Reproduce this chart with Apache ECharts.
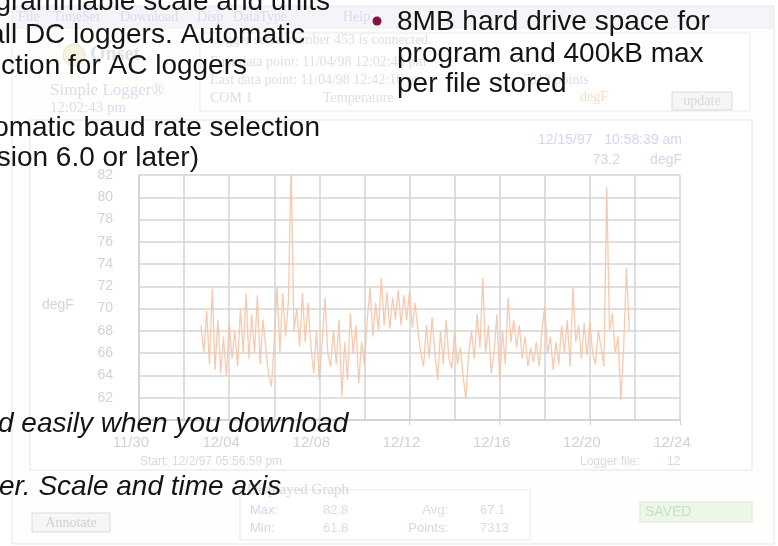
<!DOCTYPE html>
<html>
<head>
<meta charset="utf-8">
<script src="https://cdn.jsdelivr.net/npm/echarts@6/dist/echarts.min.js"></script>
<style>
  html, body { margin: 0; padding: 0; background: #ffffff; }
  #chart { width: 778px; height: 546px; }
</style>
</head>
<body>
<div id="chart"></div>
<script>
// logger samples: first reading 12/2 ~6pm, one value every 3 hours (days from 11/30)
const START_DAY = 2.75;
const STEP_DAY = 0.125;
const tempF = [
  68.5, 66, 69.8, 65, 71.8, 64.5, 69, 64.2,
  67.5, 63.9, 68.7, 65.5, 68, 64.8, 70, 66,
  71.4, 65.5, 69.5, 66, 71.2, 65, 69, 66.5,
  64, 63.0, 67, 71.9, 66, 71.4, 67.5, 70.5,
  82.8, 68, 70, 66.6, 71.4, 67, 70.5, 66.6,
  64.2, 68, 63.6, 67, 71.0, 66, 64.8, 68,
  65, 69, 62.1, 67, 63.6, 69.6, 66, 68.5,
  63.3, 67, 65, 69, 71.9, 67.5, 70.5, 68,
  72.8, 68.5, 71.5, 68.2, 71, 69, 71.7, 68.5,
  71.2, 69, 71.5, 68.3, 70.5, 68, 66, 64.8,
  68.5, 65.5, 69.2, 66, 63.6, 68, 65, 69,
  65.5, 64.6, 68, 65, 66.5, 64, 61.9, 66,
  68, 65.5, 69.5, 66.5, 72.8, 66, 68.5, 64.2,
  66, 69.5, 63.6, 68, 65, 71.0, 67, 69,
  66.5, 68.5, 65.5, 67.5, 64.8, 66.5, 65.2, 67,
  64.8, 68, 70.2, 66, 67.5, 64.5, 67, 65,
  68.5, 66, 69, 64.8, 71.9, 67, 68.5, 65.5,
  68.7, 65.8, 68.8, 66, 65, 68, 66.5, 64.8,
  80.9, 68, 69.6, 66, 67.5, 61.8, 66.5, 73.7,
  68
];
const xTickLabels = ['11/30', '12/04', '12/08', '12/12', '12/16', '12/20', '12/24'];

const menuItems = [['File', 18], ['TimeSet', 53], ['Download', 120], ['Disp', 197], ['DataType', 233], ['Help', 343]];

const faint = '#dcdfe6';
const faintBlue = '#d3d6ec';
const black = '#141414';
const sans = 'Liberation Sans, Arial, sans-serif';
const serif = 'Liberation Serif, Times New Roman, serif';

function txt(text, x, y, opts) {
  opts = opts || {};
  return {
    type: 'text',
    z: opts.z != null ? opts.z : 1,
    style: {
      text: text,
      x: x,
      y: y,
      font: opts.font || ('14px ' + serif),
      fill: opts.fill || faint,
      textAlign: opts.align || 'left',
      textVerticalAlign: 'middle'
    }
  };
}
function box(x, y, w, h, fill, stroke) {
  return {
    type: 'rect',
    z: -5,
    shape: { x: x, y: y, width: w, height: h },
    style: { fill: fill || 'none', stroke: stroke || '#e3e3e6', lineWidth: 1 }
  };
}

const chart = echarts.init(document.getElementById('chart'), null, { renderer: 'canvas' });

const graphic = [
  // window frame and panels (faded screenshot)
  box(12, 6, 762, 538, '#fefefd', '#e6e6e8'),
  box(13, 7, 760, 21, '#f3f5f9', '#eceef3'),
  box(200, 33, 550, 78, '#ffffff', '#e8e9ec'),
  box(30, 120, 722, 350, '#ffffff', '#e4e4e6'),
  box(240, 490, 290, 50, '#ffffff', '#e8e8ea'),
  box(32, 513, 78, 19, '#f6f6f6', '#dcdcde'),
  box(640, 502, 112, 20, '#ecf6e9', '#d8e8d5'),
  box(672, 92, 60, 18, '#f6f6f6', '#dadadc'),
  { type: 'circle', z: -4, shape: { cx: 74, cy: 55, r: 11 }, style: { fill: '#f7f2de', stroke: '#ebe5cf' } },
  txt('Onset', 90, 55, { font: 'bold 20px ' + serif, fill: '#e0e2e8' }),
  txt('Simple Logger\u00ae', 50, 91, { font: '17px ' + serif, fill: '#dadded' }),
  txt('12:02:43 pm', 50, 108, { font: '15px ' + serif, fill: '#dadded' }),
  txt('Logger serial number 453 is connected.', 210, 40),
  txt('First data point: 11/04/98 12:02:43 pm', 210, 62),
  txt('Last data point: 11/04/98 12:42:16 pm', 210, 80),
  txt('7313 points', 523, 80),
  txt('COM 1', 210, 98),
  txt('Temperature', 323, 98),
  txt('degF', 580, 97, { fill: '#f8dcc8' }),
  txt('update', 702, 101, { fill: '#d6d7dc', align: 'center', font: '14px ' + serif }),
  txt('12/15/97   10:58:39 am', 682, 140, { fill: faintBlue, align: 'right', font: '14px ' + sans }),
  txt('73.2', 620, 160, { fill: faintBlue, align: 'right', font: '14px ' + sans }),
  txt('degF', 682, 160, { fill: faintBlue, align: 'right', font: '14px ' + sans }),
  txt('degF', 42, 305, { fill: '#d3d5db', font: '14px ' + sans }),
  txt('Start: 12/2/97 05:56:59 pm', 140, 462, { fill: '#d8dae1', font: '12px ' + sans }),
  txt('Logger file:', 580, 462, { fill: '#d8dae1', font: '12px ' + sans }),
  txt('12', 667, 462, { fill: '#d8dae1', font: '12px ' + sans }),
  txt('Displayed Graph', 247, 490, { fill: '#d6d8df', font: '15px ' + serif }),
  txt('Max:', 250, 510, { fill: faintBlue, font: '13px ' + sans }),
  txt('82.8', 323, 510, { fill: '#dadce2', font: '13px ' + sans }),
  txt('Avg:', 448, 510, { fill: '#dadce2', font: '13px ' + sans, align: 'right' }),
  txt('67.1', 480, 510, { fill: '#dadce2', font: '13px ' + sans }),
  txt('Min:', 250, 528, { fill: faintBlue, font: '13px ' + sans }),
  txt('61.8', 323, 528, { fill: '#dadce2', font: '13px ' + sans }),
  txt('Points:', 448, 528, { fill: faintBlue, font: '13px ' + sans, align: 'right' }),
  txt('7313', 480, 528, { fill: '#dadce2', font: '13px ' + sans }),
  txt('Annotate', 71, 523, { fill: '#cfd0d4', font: '14px ' + serif, align: 'center' }),
  txt('SAVED', 645, 512, { fill: '#cbe0c9', font: '14px ' + sans }),

  // brochure text laid over the screenshot
  txt('Programmable scale and units', 330, 2, { z: 20, font: '28px ' + sans, fill: black, align: 'right' }),
  txt('for all DC loggers. Automatic', 305, 35, { z: 20, font: '28px ' + sans, fill: black, align: 'right' }),
  txt('selection for AC loggers', 247, 66, { z: 20, font: '28px ' + sans, fill: black, align: 'right' }),
  txt('Automatic baud rate selection', 320, 128, { z: 20, font: '28px ' + sans, fill: black, align: 'right' }),
  txt('(version 6.0 or later)', 199, 158, { z: 20, font: '28px ' + sans, fill: black, align: 'right' }),
  { type: 'circle', z: 20, shape: { cx: 377, cy: 21, r: 4.5 }, style: { fill: '#8c0f42' } },
  txt('8MB hard drive space for', 397, 22, { z: 20, font: '28px ' + sans, fill: black }),
  txt('program and 400kB max', 397, 54, { z: 20, font: '28px ' + sans, fill: black }),
  txt('per file stored', 397, 84, { z: 20, font: '28px ' + sans, fill: black }),
  txt('d easily when you download', -2, 424, { z: 20, font: 'italic 28px ' + sans, fill: black }),
  txt('er. Scale and time axis', -1, 487, { z: 20, font: 'italic 28px ' + sans, fill: black })
];
menuItems.forEach(function (m) {
  graphic.push(txt(m[0], m[1], 17, { fill: '#dadde5', font: '14px ' + serif }));
});

chart.setOption({
  backgroundColor: '#ffffff',
  animation: false,
  grid: { left: 139, right: 98, top: 175, bottom: 126, containLabel: false },
  xAxis: {
    type: 'value',
    min: 0,
    max: 24,
    interval: 4,
    axisLine: { show: true, lineStyle: { color: '#d2d2d4', width: 1.5 } },
    axisTick: { show: true, length: 5, lineStyle: { color: '#d2d2d4' } },
    axisLabel: {
      color: '#d0d2d8',
      fontFamily: sans,
      fontSize: 15,
      margin: 15,
      padding: [0, 16, 0, 0],
      formatter: function (v) { return xTickLabels[Math.round(v / 4)] || ''; }
    },
    splitLine: { show: true, lineStyle: { color: '#d4d4d6', width: 1.5 } },
    minorTick: { show: false, splitNumber: 2 },
    minorSplitLine: { show: true, lineStyle: { color: '#d4d4d6', width: 1.5 } }
  },
  yAxis: {
    type: 'value',
    min: 60,
    max: 82,
    interval: 2,
    axisLine: { show: true, lineStyle: { color: '#d2d2d4', width: 1.5 } },
    axisTick: { show: false },
    axisLabel: {
      color: '#d0d2d8',
      fontFamily: sans,
      fontSize: 14,
      margin: 26,
      padding: [8, 0, 0, 0],
      formatter: function (v) { return v === 60 ? '' : String(v); }
    },
    splitLine: { show: true, lineStyle: { color: '#d4d4d6', width: 1.5 } }
  },
  series: [{
    type: 'line',
    showSymbol: false,
    sampling: 'none',
    lineStyle: { width: 1.3, color: '#f8c3a6', opacity: 0.9 },
    data: tempF.map(function (v, i) { return [START_DAY + i * STEP_DAY, v]; }),
    z: 3
  }],
  graphic: graphic
});
</script>
</body>
</html>
